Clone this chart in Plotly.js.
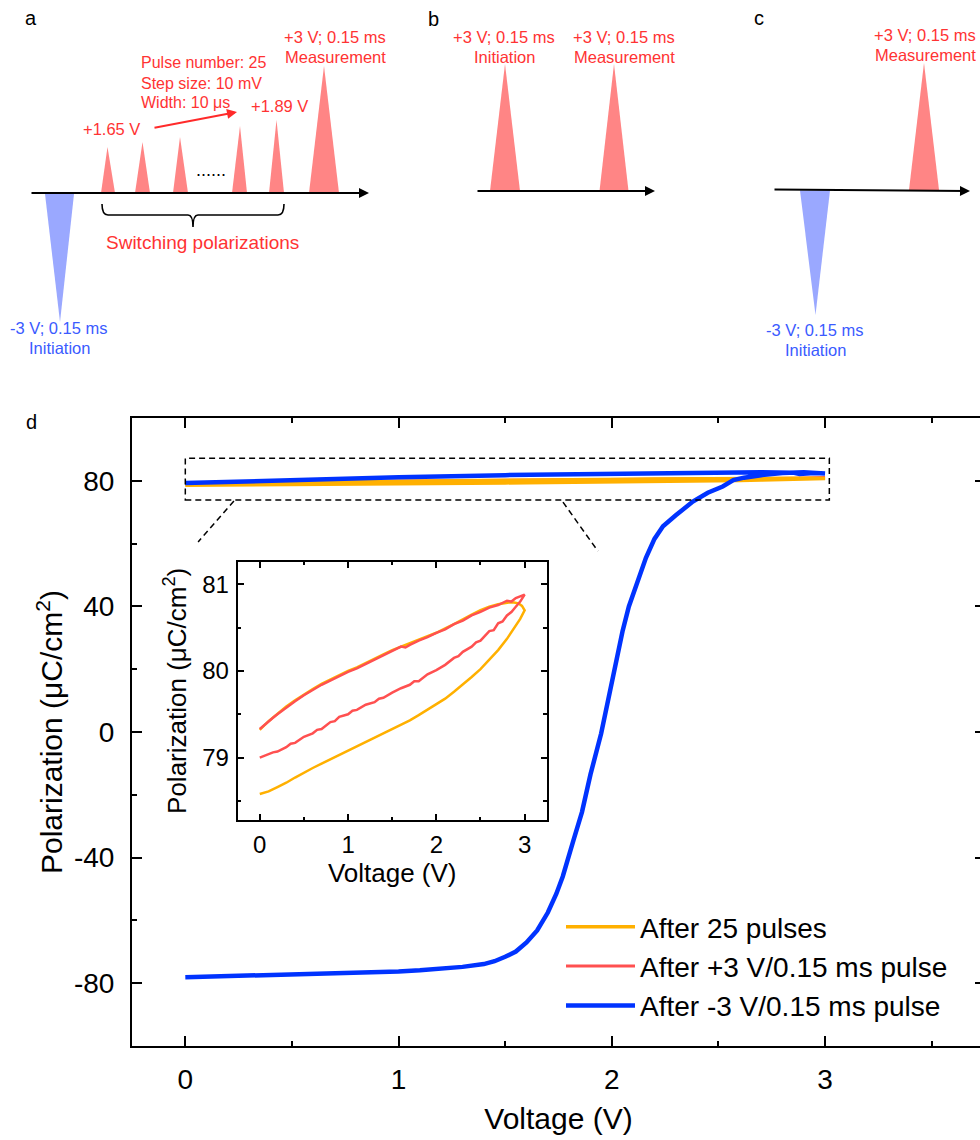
<!DOCTYPE html>
<html>
<head>
<meta charset="utf-8">
<script src="https://cdn.plot.ly/plotly-3.0.1.min.js"></script>
<style>
html,body{margin:0;padding:0;overflow:hidden;background:#fff;}
#chart{width:1000px;height:1140px;}
</style>
</head>
<body>
<div id="chart"></div>
<script>
// ---------------- data ----------------
var seriesNames = ["After 25 pulses", "After +3 V/0.15 ms pulse", "After -3 V/0.15 ms pulse"];

var orangeV = [0,0.1,0.2,0.3,0.4,0.5,0.6,0.7,0.8,0.9,1.0,1.1,1.2,1.3,1.4,1.5,1.6,1.7,1.8,1.9,2.0,2.1,2.2,2.3,2.4,2.5,2.6,2.7,2.8,2.9,2.95,3.0,
  2.97,2.93,2.88,2.82,2.75,2.7,2.6,2.5,2.4,2.3,2.2,2.1,2.0,1.9,1.8,1.7,1.6,1.5,1.4,1.3,1.2,1.1,1.0,0.9,0.8,0.7,0.6,0.5,0.4,0.3,0.2,0.1,0];
var orangeP = [78.58,78.61,78.66,78.71,78.77,78.83,78.88,78.93,78.98,79.03,79.08,79.13,79.18,79.23,79.28,79.33,79.38,79.43,79.49,79.55,79.61,79.68,79.76,79.84,79.93,80.02,80.13,80.24,80.37,80.52,80.60,80.70,
  80.75,80.78,80.79,80.79,80.78,80.77,80.74,80.70,80.65,80.59,80.54,80.49,80.44,80.40,80.36,80.32,80.28,80.24,80.19,80.14,80.09,80.04,80.00,79.95,79.90,79.85,79.79,79.73,79.66,79.59,79.51,79.42,79.32];

var redV = [0,0.1,0.15,0.2,0.3,0.35,0.4,0.5,0.6,0.65,0.7,0.8,0.85,0.9,1.0,1.05,1.1,1.2,1.3,1.35,1.4,1.5,1.6,1.7,1.75,1.8,1.9,2.0,2.1,2.2,2.25,2.3,2.4,2.45,2.5,2.6,2.65,2.7,2.75,2.8,2.85,2.9,2.95,3.0,
  2.95,2.9,2.85,2.8,2.7,2.6,2.5,2.4,2.3,2.2,2.1,2.0,1.9,1.8,1.7,1.65,1.6,1.5,1.4,1.3,1.2,1.1,1.0,0.9,0.8,0.7,0.6,0.5,0.4,0.3,0.2,0.15,0.1,0.05,0];
var redP = [79.00,79.04,79.06,79.07,79.12,79.16,79.17,79.24,79.28,79.32,79.33,79.41,79.42,79.47,79.50,79.54,79.55,79.61,79.64,79.68,79.69,79.75,79.80,79.84,79.88,79.88,79.96,80.01,80.07,80.15,80.17,80.22,80.28,80.33,80.35,80.46,80.47,80.55,80.57,80.64,80.68,80.74,80.80,80.88,
  80.86,80.84,80.80,80.81,80.76,80.73,80.68,80.64,80.58,80.54,80.48,80.44,80.39,80.35,80.30,80.27,80.28,80.23,80.18,80.13,80.08,80.03,79.99,79.94,79.89,79.84,79.78,79.72,79.65,79.58,79.50,79.46,79.42,79.38,79.33];

var blueV = [0,0.2,0.4,0.6,0.8,1.0,1.1,1.2,1.3,1.4,1.45,1.5,1.55,1.6,1.65,1.7,1.74,1.77,1.8,1.82,1.86,1.9,1.95,1.99,2.02,2.05,2.08,2.12,2.16,2.2,2.24,2.3,2.38,2.45,2.5,2.52,2.57,2.62,2.7,2.8,2.9,3.0,
  2.95,2.88,2.85,2.7,2.5,2.3,2.0,1.5,1.0,0.5,0];
var blueP = [-78.1,-77.8,-77.5,-77.1,-76.7,-76.3,-75.9,-75.4,-74.8,-73.9,-73.0,-71.6,-69.9,-67.0,-63.2,-57.5,-51.5,-46.0,-38.5,-34.5,-25.5,-13.5,-0.5,13.0,22.5,32.0,40.0,47.5,55.5,61.5,65.5,69.0,73.4,76.2,77.8,78.2,80.2,81.0,81.8,82.5,82.7,82.3,
  82.5,82.2,82.6,82.7,82.6,82.4,82.2,81.8,81.1,80.2,79.3];

var mainXTicks = [0,1,2,3];
var mainXLabels = ["0","1","2","3"];
var mainYTicks = [-80,-40,0,40,80];
var mainYLabels = ["-80","-40","0","40","80"];
var insetXTicks = [0,1,2,3];
var insetXLabels = ["0","1","2","3"];
var insetYTicks = [79,80,81];
var insetYLabels = ["79","80","81"];

// ---------------- styles ----------------
var FONT = "Liberation Sans, Arial, Helvetica, sans-serif";
var C_ORANGE = "#FFB000", C_RED = "#FF5050", C_BLUE = "#0033FF";
var C_TXT_RED = "#FF3333", C_TXT_BLUE = "#3B5BFF";
var C_TRI_RED = "#FF8585", C_TRI_BLUE = "#9AA8FF";
var W = 1000, H = 1140;
function PX(x){ return x / W; }
function PY(y){ return 1 - y / H; }

var traces = [
  {x: redV, y: redP, xaxis: "x", yaxis: "y", mode: "lines", name: seriesNames[1], legendrank: 2,
   line: {color: C_RED, width: 3}},
  {x: orangeV, y: orangeP, xaxis: "x", yaxis: "y", mode: "lines", name: seriesNames[0], legendrank: 1,
   line: {color: C_ORANGE, width: 3.5}},
  {x: blueV, y: blueP, xaxis: "x", yaxis: "y", mode: "lines", name: seriesNames[2], legendrank: 3,
   line: {color: C_BLUE, width: 4.5}},
  {x: orangeV, y: orangeP, xaxis: "x2", yaxis: "y2", mode: "lines", showlegend: false,
   line: {color: C_ORANGE, width: 2.5}},
  {x: redV, y: redP, xaxis: "x2", yaxis: "y2", mode: "lines", showlegend: false,
   line: {color: C_RED, width: 2.5}}
];

function axisCommon(extra){
  var a = {showgrid: false, zeroline: false, showline: true, linecolor: "#000", linewidth: 2,
    mirror: "ticks", ticks: "inside", tickcolor: "#000", tickwidth: 2, fixedrange: true, tickmode: "array",
    tickfont: {family: FONT, size: 28, color: "#000"}};
  for (var k in extra) a[k] = extra[k];
  return a;
}

// ---------------- schematic (top panels) ----------------
var shapes = [];
var annotations = [];
function tri(pts, color){
  var d = "M" + PX(pts[0][0]) + "," + PY(pts[0][1]);
  for (var i = 1; i < pts.length; i++) d += " L" + PX(pts[i][0]) + "," + PY(pts[i][1]);
  d += " Z";
  shapes.push({type: "path", xref: "paper", yref: "paper", path: d, fillcolor: color, line: {width: 0}, layer: "below"});
}
function txt(s, x, y, color, size, anchor){
  annotations.push({xref: "paper", yref: "paper", x: PX(x), y: PY(y), text: s, showarrow: false,
    xanchor: anchor || "center", yanchor: "middle", font: {family: FONT, size: size || 16.5, color: color}});
}
function arrow(x0, y0, x1, y1, color, width){
  annotations.push({xref: "paper", yref: "paper", x: PX(x1), y: PY(y1), ax: x0 - x1, ay: y0 - y1,
    axref: "pixel", ayref: "pixel", text: "", showarrow: true, arrowhead: 2, arrowsize: 1,
    arrowwidth: width || 2, arrowcolor: color || "#000", standoff: 0, startstandoff: 0});
}

// panel a
tri([[45,194],[74,194],[60,322]], C_TRI_BLUE);
tri([[101,193],[115,193],[107.5,147]], C_TRI_RED);
tri([[135,193],[150,193],[142.5,142]], C_TRI_RED);
tri([[173,193],[188,193],[180,137]], C_TRI_RED);
tri([[232,193],[247,193],[240,126]], C_TRI_RED);
tri([[269,193],[284,193],[276.5,120]], C_TRI_RED);
tri([[309,193],[339,193],[324,66]], C_TRI_RED);
arrow(30, 193, 369, 193, "#000", 2);
arrow(153, 128, 237, 112, "#FF2A2A", 2);
shapes.push({type: "path", xref: "paper", yref: "paper", line: {color: "#000", width: 1.6},
  path: "M" + PX(102) + "," + PY(204) + " Q" + PX(102) + "," + PY(215) + " " + PX(108) + "," + PY(215) +
        " L" + PX(188) + "," + PY(215) + " Q" + PX(193) + "," + PY(215) + " " + PX(193) + "," + PY(227) +
        " Q" + PX(193) + "," + PY(215) + " " + PX(198) + "," + PY(215) +
        " L" + PX(278) + "," + PY(215) + " Q" + PX(284) + "," + PY(215) + " " + PX(284) + "," + PY(204)});
txt("a", 31, 18, "#000", 20);
txt("+3 V; 0.15 ms", 335, 37, C_TXT_RED);
txt("Measurement", 335, 57, C_TXT_RED);
txt("Pulse number: 25", 139, 63, C_TXT_RED, 16, "left");
txt("Step size: 10 mV", 139, 83, C_TXT_RED, 16, "left");
txt("Width: 10 μs", 139, 103, C_TXT_RED, 16, "left");
txt("+1.65 V", 111, 129, C_TXT_RED);
txt("+1.89 V", 279, 106, C_TXT_RED);
txt("......", 211, 170, "#000", 18);
txt("Switching polarizations", 202, 242, C_TXT_RED, 19);
txt("-3 V; 0.15 ms", 59, 328, C_TXT_BLUE);
txt("Initiation", 59, 348, C_TXT_BLUE);

// panel b
tri([[490,191],[520,191],[505,64]], C_TRI_RED);
tri([[599.5,191],[628.5,191],[614,64]], C_TRI_RED);
arrow(476, 191, 655, 191, "#000", 2);
txt("b", 433, 19, "#000", 20);
txt("+3 V; 0.15 ms", 504, 37, C_TXT_RED);
txt("Initiation", 504, 57, C_TXT_RED);
txt("+3 V; 0.15 ms", 624, 37, C_TXT_RED);
txt("Measurement", 624, 57, C_TXT_RED);

// panel c
tri([[800,190.5],[830,190.5],[815.5,315]], C_TRI_BLUE);
tri([[909,190],[939,190],[924,63]], C_TRI_RED);
arrow(773, 189.5, 970, 191, "#000", 2);
txt("c", 759, 18, "#000", 20);
txt("+3 V; 0.15 ms", 925, 35, C_TXT_RED);
txt("Measurement", 925, 55, C_TXT_RED);
txt("-3 V; 0.15 ms", 815, 330, C_TXT_BLUE);
txt("Initiation", 815, 350, C_TXT_BLUE);

// panel d label
txt("d", 31, 422, "#000", 20);

// zoom box and connectors (main axis coordinates)
shapes.push({type: "rect", xref: "x", yref: "y", x0: 0, x1: 3.02, y0: 73.9, y1: 87.2,
  line: {color: "#000", width: 1.5, dash: "6px,4px"}, fillcolor: "rgba(0,0,0,0)", layer: "above"});
shapes.push({type: "line", xref: "x", yref: "y", x0: 0.228, y0: 73.6, x1: 0.06, y1: 60.5,
  line: {color: "#000", width: 1.5, dash: "6px,4px"}});
shapes.push({type: "line", xref: "x", yref: "y", x0: 1.771, y0: 73.2, x1: 1.935, y1: 57.6,
  line: {color: "#000", width: 1.5, dash: "6px,4px"}});

var layout = {
  width: W, height: H,
  margin: {l: 0, r: 0, t: 0, b: 0, pad: 0},
  paper_bgcolor: "#fff", plot_bgcolor: "rgba(0,0,0,0)",
  font: {family: FONT, color: "#000"},
  showlegend: true,
  legend: {x: PX(561), y: PY(902), xanchor: "left", yanchor: "top", bgcolor: "rgba(0,0,0,0)",
    font: {family: FONT, size: 28, color: "#000"}, traceorder: "normal", itemwidth: 69},
  xaxis: axisCommon({domain: [PX(132), PX(985)], range: [-0.25, 3.75], anchor: "y",
    tickvals: mainXTicks, ticktext: mainXLabels, ticklen: 10, ticklabelstandoff: 7,
    minor: {dtick: 0.5, tick0: 0, ticks: "inside", ticklen: 5, tickwidth: 2, tickcolor: "#000", showgrid: false},
    title: {text: "Voltage (V)", font: {family: FONT, size: 30, color: "#000"}, standoff: 14}}),
  yaxis: axisCommon({domain: [PY(1046), PY(418)], range: [-100, 100], anchor: "x",
    tickvals: mainYTicks, ticktext: mainYLabels, ticklen: 10, ticklabelstandoff: 10,
    minor: {dtick: 20, tick0: 0, ticks: "inside", ticklen: 5, tickwidth: 2, tickcolor: "#000", showgrid: false},
    title: {text: "Polarization (μC/cm<sup>2</sup>)", font: {family: FONT, size: 30, color: "#000"}, standoff: 2}}),
  xaxis2: axisCommon({domain: [PX(237.7), PX(546.7)], range: [-0.25, 3.25], anchor: "y2",
    tickvals: insetXTicks, ticktext: insetXLabels, ticklen: 6, tickfont: {family: FONT, size: 24, color: "#000"}, ticklabelstandoff: 2,
    minor: {dtick: 0.5, tick0: 0, ticks: "inside", ticklen: 3.5, tickwidth: 2, tickcolor: "#000", showgrid: false},
    title: {text: "Voltage (V)", font: {family: FONT, size: 26, color: "#000"}, standoff: 0}}),
  yaxis2: axisCommon({domain: [PY(820), PY(561.7)], range: [78.28, 81.26], anchor: "x2",
    tickvals: insetYTicks, ticktext: insetYLabels, ticklen: 6, tickfont: {family: FONT, size: 24, color: "#000"}, ticklabelstandoff: 2,
    minor: {dtick: 0.5, tick0: 0, ticks: "inside", ticklen: 3.5, tickwidth: 2, tickcolor: "#000", showgrid: false},
    title: {text: "Polarization (μC/cm<sup>2</sup>)", font: {family: FONT, size: 26, color: "#000"}, standoff: 8}}),
  shapes: shapes,
  annotations: annotations
};

Plotly.newPlot("chart", traces, layout, {displayModeBar: false, staticPlot: true});
</script>
</body>
</html>
